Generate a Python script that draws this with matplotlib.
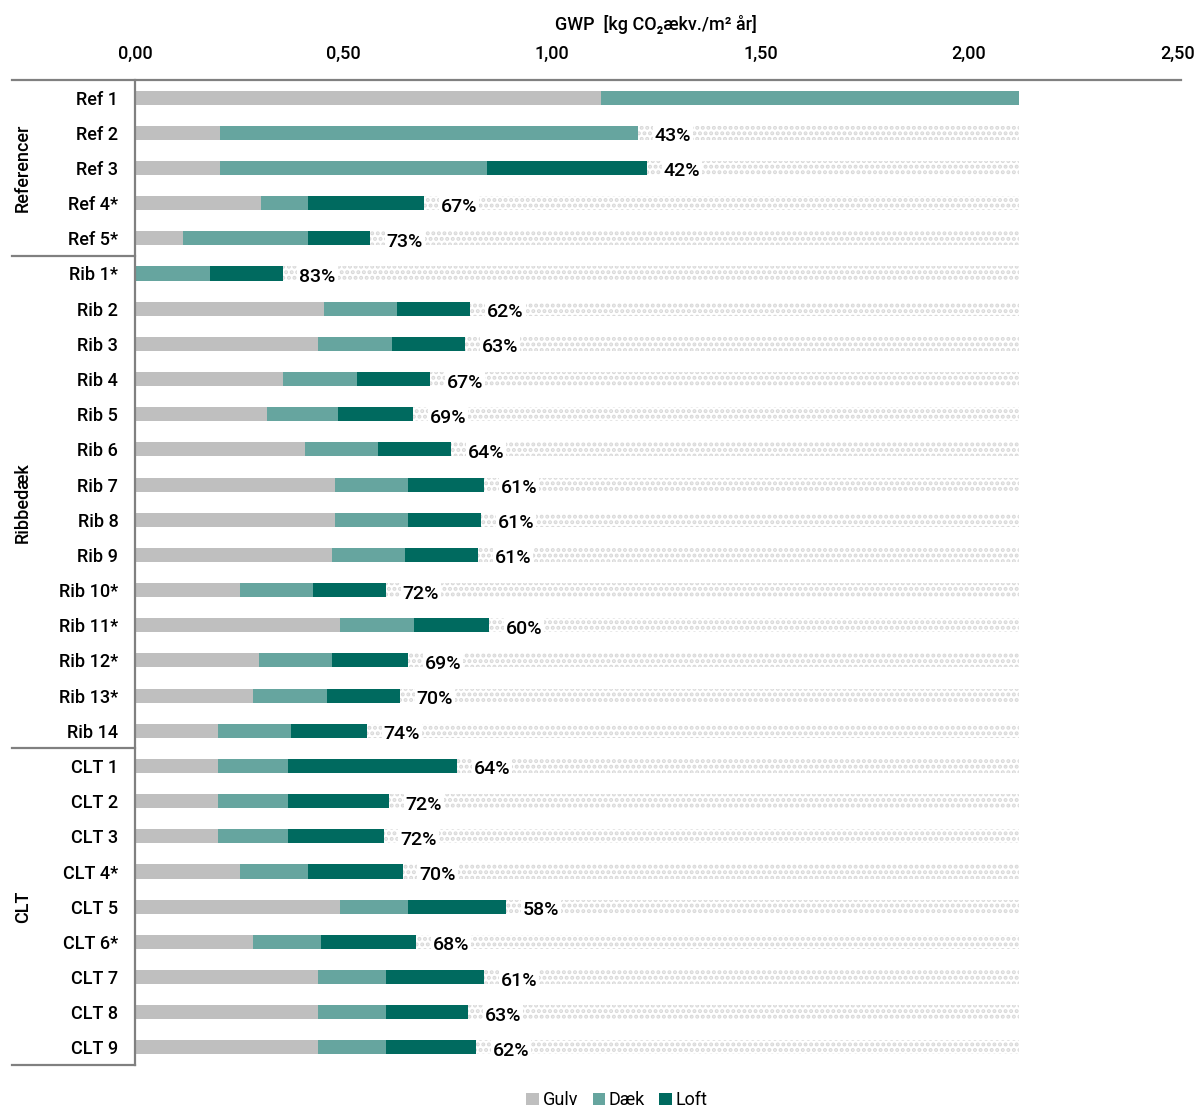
import matplotlib.pyplot as plt
from matplotlib.transforms import blended_transform_factory

plt.rcParams['font.family'] = ['Roboto', 'DejaVu Sans']

labels = ['Ref 1', 'Ref 2', 'Ref 3', 'Ref 4*', 'Ref 5*',
          'Rib 1*', 'Rib 2', 'Rib 3', 'Rib 4', 'Rib 5', 'Rib 6', 'Rib 7',
          'Rib 8', 'Rib 9', 'Rib 10*', 'Rib 11*', 'Rib 12*', 'Rib 13*', 'Rib 14',
          'CLT 1', 'CLT 2', 'CLT 3', 'CLT 4*', 'CLT 5', 'CLT 6*', 'CLT 7',
          'CLT 8', 'CLT 9']

gulv = [1.117, 0.204, 0.204, 0.302, 0.115,
        0.0, 0.453, 0.439, 0.355, 0.317, 0.408, 0.480, 0.480, 0.472,
        0.252, 0.492, 0.297, 0.283, 0.199,
        0.199, 0.199, 0.199, 0.251, 0.492, 0.283, 0.440, 0.440, 0.440]
daek = [1.003, 1.002, 0.640, 0.113, 0.300,
        0.179, 0.176, 0.177, 0.177, 0.170, 0.175, 0.175, 0.175, 0.175,
        0.175, 0.177, 0.175, 0.177, 0.175,
        0.169, 0.169, 0.169, 0.163, 0.163, 0.163, 0.163, 0.163, 0.163]
loft = [0.0, 0.0, 0.384, 0.278, 0.149,
        0.175, 0.175, 0.175, 0.175, 0.180, 0.175, 0.182, 0.175, 0.176,
        0.175, 0.180, 0.183, 0.175, 0.182,
        0.404, 0.241, 0.228, 0.228, 0.235, 0.228, 0.234, 0.196, 0.215]
pct = ['', '43%', '42%', '67%', '73%',
       '83%', '62%', '63%', '67%', '69%', '64%', '61%', '61%', '61%',
       '72%', '60%', '69%', '70%', '74%',
       '64%', '72%', '72%', '70%', '58%', '68%', '61%', '63%', '62%']

groups = [('Referencer', 0, 4), ('Ribbedæk', 5, 18), ('CLT', 19, 27)]

ref_total = gulv[0] + daek[0] + loft[0]

fig = plt.figure(figsize=(12.02, 11.19), dpi=100)
ax = fig.add_axes([135 / 1202, 54 / 1119, 1042.5 / 1202, 985 / 1119])

y = list(range(len(labels)))
h = 0.4

plt.rcParams['hatch.linewidth'] = 2.0
# dotted background up to the Ref 1 level
ax.barh(y, [ref_total] * len(y), height=h, color='white', hatch='...',
        edgecolor='#d9d9d9', linewidth=0, zorder=1)

left2 = [g for g in gulv]
left3 = [g + d for g, d in zip(gulv, daek)]
ax.barh(y, gulv, height=h, color='#bfbfbf', label='Gulv', zorder=2)
ax.barh(y, daek, left=left2, height=h, color='#66a59f', label='Dæk', zorder=2)
ax.barh(y, loft, left=left3, height=h, color='#006a5f', label='Loft', zorder=2)

for i, p in enumerate(pct):
    if not p:
        continue
    tot = gulv[i] + daek[i] + loft[i]
    ax.text(tot + 0.04, i + 0.1, p, va='center', ha='left', fontsize=14,
            fontweight='medium', zorder=3,
            bbox=dict(boxstyle='square,pad=0.1', fc='white', ec='none'))

ax.set_xlim(0, 2.5)
ax.set_ylim(27.5, -0.5)
ax.xaxis.tick_top()
ax.set_xticks([0, 0.5, 1.0, 1.5, 2.0, 2.5])
ax.set_xticklabels(['0,00', '0,50', '1,00', '1,50', '2,00', '2,50'],
                   fontsize=13, fontweight='medium')
ax.set_yticks(y)
ax.set_yticklabels(labels, fontsize=13, fontweight='medium')
ax.tick_params(axis='y', length=0, pad=12)
ax.tick_params(axis='x', length=0, pad=12)
for s in ['top', 'right', 'bottom']:
    ax.spines[s].set_visible(False)
ax.spines['left'].set_color('#808080')
ax.spines['left'].set_linewidth(1.6)

ax.set_title('GWP  [kg CO\u2082ækv./m\u00b2 år]', fontsize=13,
             fontweight='medium', pad=36)

# group separators and top rule
trans = blended_transform_factory(ax.transAxes, ax.transData)
x0 = -123 / 1042.5
ax.plot([x0, 1.003], [-0.5, -0.5], transform=trans, color='#808080',
        lw=1.6, clip_on=False)
for yy in [4.5, 18.5, 27.5]:
    ax.plot([x0, 0], [yy, yy], transform=trans, color='#808080',
            lw=1.6, clip_on=False)
for name, a, b in groups:
    ax.text(-112 / 1042.5, (a + b) / 2, name, transform=trans, rotation=90,
            ha='center', va='center', fontsize=13, fontweight='medium')

fig.legend(loc='lower center', bbox_to_anchor=(617 / 1202, -0.006), ncol=3,
           frameon=False, fontsize=13, handlelength=0.7, handleheight=0.7,
           handletextpad=0.2, columnspacing=0.8)

plt.savefig('out.png', dpi=100)
